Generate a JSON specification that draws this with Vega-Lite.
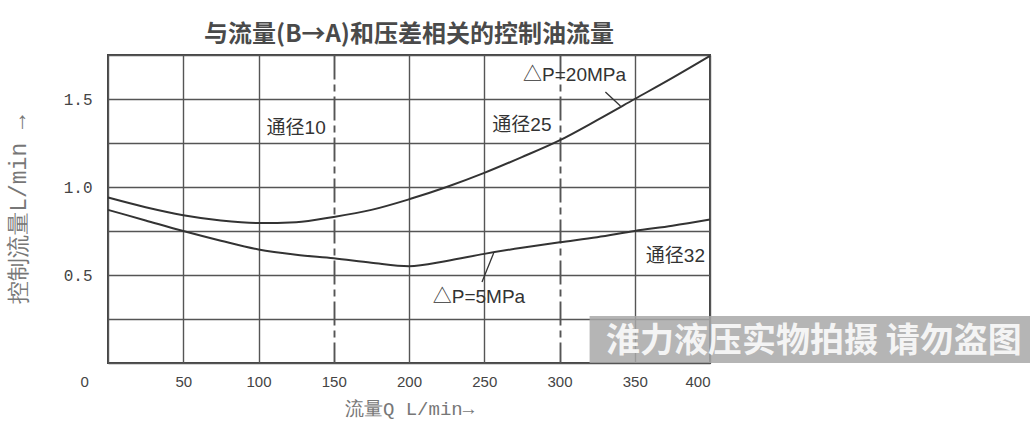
{
  "$schema": "https://vega.github.io/schema/vega-lite/v6.json",
  "autosize": {"type": "none"},
  "padding": {"left": 108, "top": 55, "right": 320, "bottom": 66},
  "width": 602,
  "height": 308,
  "background": "white",
  "title": {
    "text": "与流量(B→A)和压差相关的控制油流量",
    "fontSize": 24,
    "font": "Noto Sans CJK SC",
    "fontWeight": "bold",
    "color": "#4a4a4a",
    "offset": 5
  },
  "datasets": {
    "curves": [
      {"series": "20MPa", "q": 0, "flow": 0.94},
      {"series": "20MPa", "q": 25, "flow": 0.885},
      {"series": "20MPa", "q": 50, "flow": 0.84},
      {"series": "20MPa", "q": 75, "flow": 0.81},
      {"series": "20MPa", "q": 100, "flow": 0.795},
      {"series": "20MPa", "q": 125, "flow": 0.8},
      {"series": "20MPa", "q": 150, "flow": 0.83},
      {"series": "20MPa", "q": 175, "flow": 0.87},
      {"series": "20MPa", "q": 200, "flow": 0.93},
      {"series": "20MPa", "q": 225, "flow": 1.0},
      {"series": "20MPa", "q": 250, "flow": 1.08},
      {"series": "20MPa", "q": 275, "flow": 1.17},
      {"series": "20MPa", "q": 300, "flow": 1.265},
      {"series": "20MPa", "q": 325, "flow": 1.38},
      {"series": "20MPa", "q": 350, "flow": 1.5},
      {"series": "20MPa", "q": 375, "flow": 1.62},
      {"series": "20MPa", "q": 400, "flow": 1.745},
      {"series": "5MPa", "q": 0, "flow": 0.87},
      {"series": "5MPa", "q": 25, "flow": 0.81},
      {"series": "5MPa", "q": 50, "flow": 0.75},
      {"series": "5MPa", "q": 75, "flow": 0.695},
      {"series": "5MPa", "q": 100, "flow": 0.645},
      {"series": "5MPa", "q": 125, "flow": 0.615},
      {"series": "5MPa", "q": 150, "flow": 0.595},
      {"series": "5MPa", "q": 175, "flow": 0.57},
      {"series": "5MPa", "q": 200, "flow": 0.55},
      {"series": "5MPa", "q": 225, "flow": 0.58},
      {"series": "5MPa", "q": 250, "flow": 0.62},
      {"series": "5MPa", "q": 275, "flow": 0.655},
      {"series": "5MPa", "q": 300, "flow": 0.686},
      {"series": "5MPa", "q": 325, "flow": 0.715},
      {"series": "5MPa", "q": 350, "flow": 0.75},
      {"series": "5MPa", "q": 375, "flow": 0.78},
      {"series": "5MPa", "q": 400, "flow": 0.815}
    ],
    "leaders": [
      {"x": 330.5, "y": 1.54, "x2": 340.5, "y2": 1.46},
      {"x": 248.5, "y": 0.46, "x2": 256.5, "y2": 0.63}
    ],
    "notes": [
      {"x": 310, "y": 1.636, "label": "△P=20MPa"},
      {"x": 125, "y": 1.335, "label": "通径10"},
      {"x": 275, "y": 1.35, "label": "通径25"},
      {"x": 377, "y": 0.608, "label": "通径32"},
      {"x": 246.5, "y": 0.375, "label": "△P=5MPa"}
    ],
    "watermark": [
      {"x": 320, "x2": 613, "y": 0.267, "y2": 0, "tx": 469, "ty": 0.12, "label": "淮力液压实物拍摄 请勿盗图"}
    ]
  },
  "layer": [
    {
      "data": {"name": "curves"},
      "mark": {"type": "line", "interpolate": "monotone", "stroke": "#333333", "strokeWidth": 2},
      "encoding": {
        "x": {
          "field": "q",
          "type": "quantitative",
          "scale": {"domain": [0, 400], "nice": false},
          "axis": {
            "values": [0, 50, 100, 150, 200, 250, 300, 350, 400],
            "title": "流量Q  L/min→",
            "titleFont": "Liberation Mono",
            "titleFontSize": 19,
            "titleFontWeight": "normal",
            "titleColor": "#777777",
            "titlePadding": 10,
            "labelFont": "Liberation Sans",
            "labelFontSize": 15,
            "labelColor": "#444444",
            "labelPadding": 11,
            "labelOffset": {"condition": {"test": "datum.value == 0", "value": -28}, "value": 0},
            "grid": true,
            "gridColor": "#555555",
            "gridWidth": {"condition": {"test": "datum.value == 150 || datum.value == 300", "value": 1.9}, "value": 1.4},
            "gridDash": {"condition": {"test": "datum.value == 150 || datum.value == 300", "value": [24, 5, 7, 5]}, "value": []},
            "gridOpacity": 1,
            "ticks": false,
            "domain": false
          }
        },
        "y": {
          "field": "flow",
          "type": "quantitative",
          "scale": {"domain": [0, 1.75], "nice": false},
          "axis": {
            "values": [0, 0.25, 0.5, 0.75, 1, 1.25, 1.5, 1.75],
            "labelExpr": "(datum.value == 0.5 || datum.value == 1 || datum.value == 1.5) ? format(datum.value, '.1f') : ''",
            "title": "控制流量L/min →",
            "titleFont": "Liberation Mono",
            "titleFontSize": 23,
            "titleFontWeight": "normal",
            "titleColor": "#777777",
            "titlePadding": 33,
            "labelFont": "Liberation Mono",
            "labelFontSize": 16,
            "labelColor": "#444444",
            "labelPadding": 16,
            "grid": true,
            "gridColor": "#555555",
            "gridWidth": 1.4,
            "gridOpacity": 1,
            "ticks": false,
            "domain": false
          }
        },
        "detail": {"field": "series"}
      }
    },
    {
      "data": {"name": "leaders"},
      "mark": {"type": "rule", "stroke": "#333333", "strokeWidth": 1.3},
      "encoding": {
        "x": {"field": "x", "type": "quantitative"},
        "y": {"field": "y", "type": "quantitative"},
        "x2": {"field": "x2"},
        "y2": {"field": "y2"}
      }
    },
    {
      "data": {"name": "notes"},
      "mark": {"type": "text", "font": "'Liberation Sans Narrow', 'Liberation Sans', 'Noto Sans CJK SC'", "fontSize": 19, "fill": "#333333", "align": "center", "baseline": "middle"},
      "encoding": {
        "x": {"field": "x", "type": "quantitative"},
        "y": {"field": "y", "type": "quantitative"},
        "text": {"field": "label"}
      }
    },
    {
      "data": {"name": "watermark"},
      "mark": {"type": "rect", "fill": "#a8a8a8", "opacity": 0.85},
      "encoding": {
        "x": {"field": "x", "type": "quantitative"},
        "x2": {"field": "x2"},
        "y": {"field": "y", "type": "quantitative"},
        "y2": {"field": "y2"}
      }
    },
    {
      "data": {"name": "watermark"},
      "mark": {"type": "text", "font": "Noto Sans CJK SC", "fontWeight": "bold", "fontSize": 34, "fill": "#f4f4f4", "align": "center", "baseline": "middle"},
      "encoding": {
        "x": {"field": "tx", "type": "quantitative"},
        "y": {"field": "ty", "type": "quantitative"},
        "text": {"field": "label"}
      }
    }
  ],
  "config": {
    "view": {"stroke": "#444444", "strokeWidth": 2}
  }
}
